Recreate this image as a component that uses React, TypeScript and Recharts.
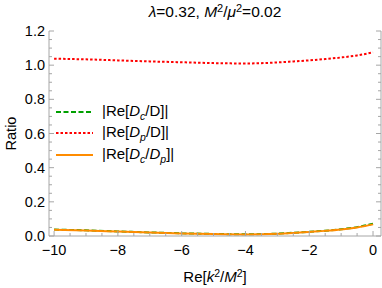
import { Legend, Line, LineChart, XAxis, YAxis } from 'recharts'

// Re[k^2/M^2] sample points
const X = [-10, -9, -8, -7, -6, -5, -4, -3, -2.5, -2, -1.5, -1, -0.5, 0]
// |Re[Dc/D]|
const DC_D = [0.038, 0.033, 0.027, 0.021, 0.016, 0.012, 0.01, 0.014, 0.019, 0.025, 0.031, 0.04, 0.052, 0.072]
// |Re[Dp/D]|
const DP_D = [1.038, 1.034, 1.028, 1.022, 1.017, 1.012, 1.01, 1.016, 1.022, 1.028, 1.036, 1.045, 1.057, 1.075]
// |Re[Dc/Dp]|
const DC_DP = [0.037, 0.032, 0.026, 0.02, 0.015, 0.011, 0.009, 0.013, 0.018, 0.024, 0.03, 0.038, 0.05, 0.068]

const X_MAJOR = [-10, -8, -6, -4, -2, 0]
const Y_MAJOR = [0, 0.2, 0.4, 0.6, 0.8, 1, 1.2]
const X_TICKS = [-10, -9.5, -9, -8.5, -8, -7.5, -7, -6.5, -6, -5.5, -5, -4.5, -4, -3.5, -3, -2.5, -2, -1.5, -1, -0.5, 0]
const Y_TICKS = [
  0, 0.05, 0.1, 0.15, 0.2, 0.25, 0.3, 0.35, 0.4, 0.45, 0.5, 0.55, 0.6, 0.65, 0.7, 0.75, 0.8, 0.85, 0.9, 0.95, 1, 1.05,
  1.1, 1.15, 1.2,
]

const data = X.map((x, i) => ({ x, dcd: DC_D[i], dpd: DP_D[i], dcdp: DC_DP[i] }))

const FONT = '"Liberation Sans", Arial, sans-serif'
const FRAME = '#a6a6a6'
const GREEN = '#00a000'
const RED = '#ff0000'
const ORANGE = '#ff8c00'

const isMajor = (list: number[], v: number) => list.some((m) => Math.abs(m - v) < 1e-6)
const fmtX = (v: number) => (v < 0 ? `\u2212${Math.abs(v)}` : `${v}`)

function frameTick(side: 'bottom' | 'top' | 'left' | 'right') {
  return (props: any) => {
    const { x, y, payload } = props
    const v = payload.value
    const major = side === 'bottom' || side === 'top' ? isMajor(X_MAJOR, v) : isMajor(Y_MAJOR, v)
    const len = major ? 5 : 3
    let line
    if (side === 'bottom') line = <line x1={x} x2={x} y1={y} y2={y - len} stroke={FRAME} />
    else if (side === 'top') line = <line x1={x} x2={x} y1={y} y2={y + len} stroke={FRAME} />
    else if (side === 'left') line = <line x1={x} x2={x + len} y1={y} y2={y} stroke={FRAME} />
    else line = <line x1={x} x2={x - len} y1={y} y2={y} stroke={FRAME} />
    return (
      <g>
        {line}
        {major && side === 'bottom' && (
          <text x={x} y={y + 19} textAnchor="middle" fontSize={14.5} fontFamily={FONT} fill="#000">
            {fmtX(v)}
          </text>
        )}
        {major && side === 'left' && (
          <text x={x - 4} y={y + 5} textAnchor="end" fontSize={14.5} fontFamily={FONT} fill="#000">
            {v.toFixed(1)}
          </text>
        )}
      </g>
    )
  }
}

const legendItems = [
  { color: GREEN, dash: '5 2.5', sub1: 'c', sub2: '' },
  { color: RED, dash: '2.5 2', sub1: 'p', sub2: '' },
  { color: ORANGE, dash: undefined, sub1: 'c', sub2: 'p' },
]

function LegendBox() {
  return (
    <div style={{ fontFamily: FONT, fontSize: 15, color: '#000' }}>
      {legendItems.map((it, i) => (
        <div key={i} style={{ display: 'flex', alignItems: 'center', height: 21.5 }}>
          <svg width={37} height={4} style={{ display: 'block' }}>
            <line x1={0} x2={37} y1={2} y2={2} stroke={it.color} strokeWidth={2} strokeDasharray={it.dash} />
          </svg>
          <span style={{ marginLeft: 9, whiteSpace: 'nowrap' }}>
            |Re[<i>D</i>
            <sub style={{ fontSize: 10.5 }}>
              <i>{it.sub1}</i>
            </sub>
            /{it.sub2 ? <i>D</i> : 'D'}
            {it.sub2 && (
              <sub style={{ fontSize: 10.5 }}>
                <i>{it.sub2}</i>
              </sub>
            )}
            ]|
          </span>
        </div>
      ))}
    </div>
  )
}

export default function App() {
  return (
    <div style={{ position: 'relative', width: 382, height: 288, background: '#fff' }}>
      <style>{'body{margin:0}'}</style>
      <LineChart width={382} height={288} data={data} margin={{ top: 31, right: 0, bottom: 0, left: 0 }}>
        <XAxis
          xAxisId="b"
          dataKey="x"
          type="number"
          domain={[-10.16, 0.25]}
          allowDataOverflow
          ticks={X_TICKS}
          interval={0}
          height={52}
          tickSize={0}
          tickMargin={0}
          tickLine={false}
          axisLine={{ stroke: FRAME }}
          tick={frameTick('bottom')}
        />
        <XAxis
          xAxisId="t"
          orientation="top"
          dataKey="x"
          type="number"
          domain={[-10.16, 0.25]}
          allowDataOverflow
          ticks={X_TICKS}
          interval={0}
          height={0}
          tickSize={0}
          tickMargin={0}
          tickLine={false}
          axisLine={{ stroke: FRAME }}
          tick={frameTick('top')}
        />
        <YAxis
          yAxisId="l"
          type="number"
          domain={[0, 1.2]}
          allowDataOverflow
          ticks={Y_TICKS}
          interval={0}
          width={49}
          tickSize={0}
          tickMargin={0}
          tickLine={false}
          axisLine={{ stroke: FRAME }}
          tick={frameTick('left')}
        />
        <YAxis
          yAxisId="r"
          orientation="right"
          type="number"
          domain={[0, 1.2]}
          allowDataOverflow
          ticks={Y_TICKS}
          interval={0}
          width={1}
          tickSize={0}
          tickMargin={0}
          tickLine={false}
          axisLine={{ stroke: FRAME }}
          tick={frameTick('right')}
        />
        <Legend
          layout="horizontal"
          align="center"
          verticalAlign="middle"
          content={() => <LegendBox />}
          wrapperStyle={{ left: 56, top: 101, width: 'auto' }}
        />
        <Line xAxisId="b" yAxisId="l" type="monotone" dataKey="dcd" stroke={GREEN} strokeWidth={2} strokeDasharray="5 2.5" dot={false} isAnimationActive={false} />
        <Line xAxisId="b" yAxisId="l" type="monotone" dataKey="dpd" stroke={RED} strokeWidth={2} strokeDasharray="2.5 2" dot={false} isAnimationActive={false} />
        <Line xAxisId="b" yAxisId="l" type="monotone" dataKey="dcdp" stroke={ORANGE} strokeWidth={2} dot={false} isAnimationActive={false} />
      </LineChart>
      <svg width={382} height={288} style={{ position: 'absolute', left: 0, top: 0, pointerEvents: 'none' }} fontFamily={FONT} fill="#000">
        <text x={215} y={17} textAnchor="middle" fontSize={15.5}>
          <tspan fontStyle="italic">λ</tspan>=0.32, <tspan fontStyle="italic">M</tspan>
          <tspan dy={-5} fontSize={11}>2</tspan>
          <tspan dy={5}>/</tspan>
          <tspan fontStyle="italic">μ</tspan>
          <tspan dy={-5} fontSize={11}>2</tspan>
          <tspan dy={5}>=0.02</tspan>
        </text>
        <text x={215} y={282} textAnchor="middle" fontSize={15}>
          Re[<tspan fontStyle="italic">k</tspan>
          <tspan dy={-5} fontSize={10.5}>2</tspan>
          <tspan dy={5}>/</tspan>
          <tspan fontStyle="italic">M</tspan>
          <tspan dy={-5} fontSize={10.5}>2</tspan>
          <tspan dy={5}>]</tspan>
        </text>
        <text x={16} y={133.5} textAnchor="middle" fontSize={14.5} transform="rotate(-90 16 133.5)">
          Ratio
        </text>
      </svg>
    </div>
  )
}
